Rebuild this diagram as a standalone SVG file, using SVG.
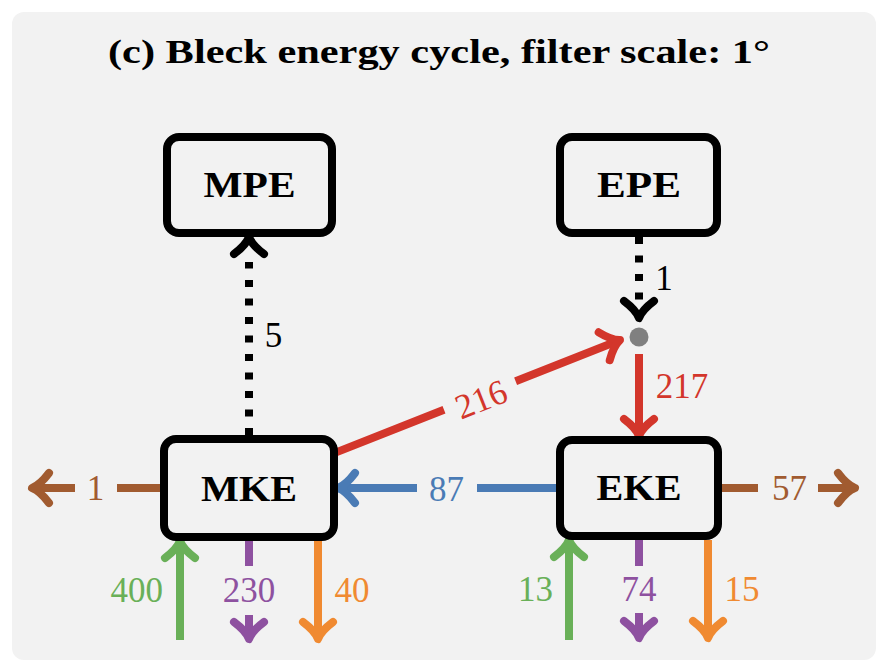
<svg xmlns="http://www.w3.org/2000/svg" xmlns:xlink="http://www.w3.org/1999/xlink" width="887" height="670" viewBox="0 0 887 670">
<style>
.box{fill:#f2f2f2;stroke:#000;stroke-width:8}
.lbl{font-family:"Liberation Serif","Times New Roman",serif;font-weight:bold;font-size:36px;text-anchor:middle;fill:#000}
.num{font-family:"Liberation Serif","Times New Roman",serif;font-size:35px;text-anchor:middle}
.ln{fill:none;stroke-width:8;stroke-linecap:butt}
.dot{stroke-dasharray:7 11.5}
.hd{fill:none;stroke-width:8;stroke-linecap:round;stroke-linejoin:round}
.k{stroke:#000}.r{stroke:#d3362b}.b{stroke:#4a7bb5}.br{stroke:#a15b30}.g{stroke:#69b058}.p{stroke:#8e51a0}.o{stroke:#f08a31}
.tk{fill:#000}.tr{fill:#d3362b}.tb{fill:#4a7bb5}.tbr{fill:#a15b30}.tg{fill:#69b058}.tp{fill:#8e51a0}.to{fill:#f08a31}
</style>
<defs>
<path id="tip" d="M-17,-15 Q-8,-3 0,0 Q-8,3 -17,15"/>
</defs>
<rect x="0" y="0" width="887" height="670" fill="#fff"/>
<rect x="12" y="12" width="864" height="648" rx="12" fill="#f2f2f2"/>
<text x="108" y="63" font-family="Liberation Serif, Times New Roman, serif" font-weight="bold" font-size="33" textLength="662" lengthAdjust="spacingAndGlyphs" fill="#000">(c) Bleck energy cycle, filter scale: 1°</text>

<g id="connectors">
  <!-- MKE -> MPE dotted -->
  <path class="ln dot k" d="M249,435 L249,262"/>
  <use href="#tip" class="hd k" transform="translate(249,237) rotate(-90)"/>
  <text class="num tk" x="273.5" y="347">5</text>
  <!-- EPE -> junction dotted -->
  <path class="ln dot k" d="M639,237 L639,300"/>
  <use href="#tip" class="hd k" transform="translate(639,318) rotate(90)"/>
  <text class="num tk" x="664" y="290">1</text>
  <circle cx="639" cy="337" r="9.5" fill="#808080"/>
  <!-- MKE -> junction red -->
  <path class="ln r" d="M334.2,453.1 L444,409.7 M515.6,381.3 L616.3,341.5"/>
  <use href="#tip" class="hd r" transform="translate(620,340) rotate(-21.6)"/>
  <text class="num tr" transform="translate(481,399) rotate(-21.6)" x="0" y="12">216</text>
  <!-- junction -> EKE red -->
  <path class="ln r" d="M639,354 L639,432"/>
  <use href="#tip" class="hd r" transform="translate(639,436) rotate(90)"/>
  <text class="num tr" x="682" y="398">217</text>
  <!-- EKE -> MKE blue -->
  <path class="ln b" d="M556,488 L477,488 M417,488 L342,488"/>
  <use href="#tip" class="hd b" transform="translate(338,488) rotate(180)"/>
  <text class="num tb" x="446.5" y="501">87</text>
  <!-- MKE -> left brown -->
  <path class="ln br" d="M160,488 L117,488 M75,488 L36,488"/>
  <use href="#tip" class="hd br" transform="translate(32,488) rotate(180)"/>
  <text class="num tbr" x="95.5" y="500">1</text>
  <!-- EKE -> right brown -->
  <path class="ln br" d="M722,488 L758,488 M818,488 L851,488"/>
  <use href="#tip" class="hd br" transform="translate(855,488)"/>
  <text class="num tbr" x="789.5" y="500">57</text>
  <!-- MKE bottom -->
  <path class="ln g" d="M180,640 L180,545"/>
  <use href="#tip" class="hd g" transform="translate(180,541) rotate(-90)"/>
  <text class="num tg" x="136.7" y="602">400</text>
  <path class="ln p" d="M249,541 L249,566 M249,615 L249,635"/>
  <use href="#tip" class="hd p" transform="translate(249,639) rotate(90)"/>
  <text class="num tp" x="249" y="602">230</text>
  <path class="ln o" d="M318,541 L318,635"/>
  <use href="#tip" class="hd o" transform="translate(318,639) rotate(90)"/>
  <text class="num to" x="352" y="602">40</text>
  <!-- EKE bottom -->
  <path class="ln g" d="M569,640 L569,544"/>
  <use href="#tip" class="hd g" transform="translate(569,540) rotate(-90)"/>
  <text class="num tg" x="535.5" y="601">13</text>
  <path class="ln p" d="M639,540 L639,566 M639,613 L639,634"/>
  <use href="#tip" class="hd p" transform="translate(639,638) rotate(90)"/>
  <text class="num tp" x="639" y="601">74</text>
  <path class="ln o" d="M708,540 L708,634"/>
  <use href="#tip" class="hd o" transform="translate(708,638) rotate(90)"/>
  <text class="num to" x="742" y="601">15</text>
</g>

<g id="MPE">
  <rect class="box" x="167" y="137" width="165" height="96" rx="12"/>
  <text class="lbl" x="249.5" y="197" textLength="92" lengthAdjust="spacingAndGlyphs">MPE</text>
</g>
<g id="EPE">
  <rect class="box" x="560" y="137" width="157" height="96" rx="12"/>
  <text class="lbl" x="639" y="197" textLength="84" lengthAdjust="spacingAndGlyphs">EPE</text>
</g>
<g id="MKE">
  <rect class="box" x="164" y="439" width="170" height="98" rx="12"/>
  <text class="lbl" x="249" y="501" textLength="96" lengthAdjust="spacingAndGlyphs">MKE</text>
</g>
<g id="EKE">
  <rect class="box" x="560" y="440" width="158" height="96" rx="12"/>
  <text class="lbl" x="639" y="500" textLength="85" lengthAdjust="spacingAndGlyphs">EKE</text>
</g>
</svg>
